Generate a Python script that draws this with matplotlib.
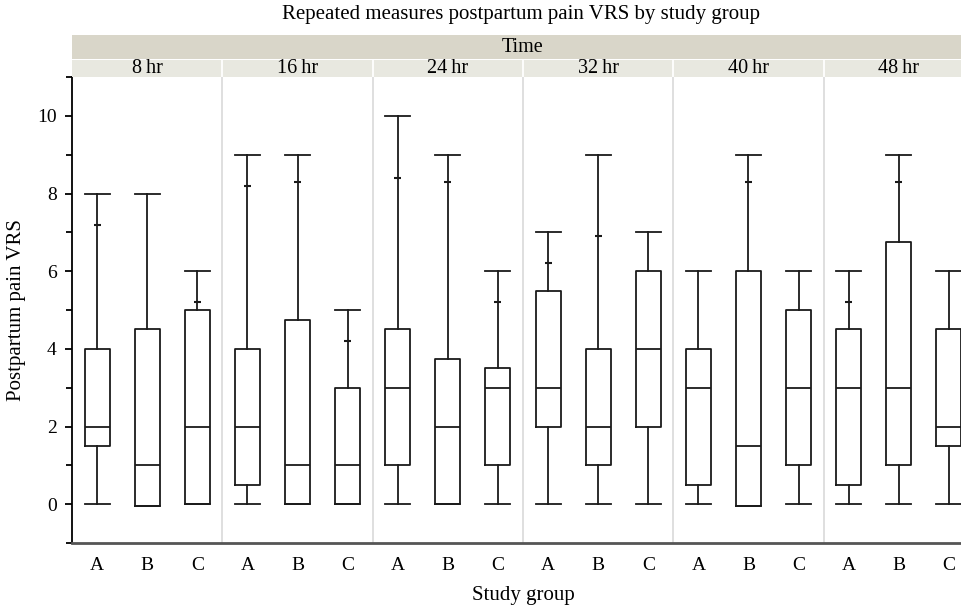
import numpy as np
import matplotlib.pyplot as plt
from matplotlib.ticker import MultipleLocator

plt.rcParams['font.family'] = ['Liberation Serif', 'DejaVu Serif']

times = ['8\u2009hr', '16\u2009hr', '24\u2009hr', '32\u2009hr', '40\u2009hr', '48\u2009hr']
groups = ['A', 'B', 'C']

# per box, order: 8hr A,B,C, 16hr A,B,C, ...
mins = [0, -0.04, 0,  0, 0, 0,  0, 0, 0,  0, 0, 0,  0, -0.04, 0,  0, 0, 0]
q1s = [1.5, -0.04, 0,  0.5, 0, 0,  1, 0, 1,  2, 1, 2,  0.5, -0.04, 1,  0.5, 1, 1.5]
medians = [2, 1, 2,  2, 1, 1,  3, 2, 3,  3, 2, 4,  3, 1.5, 3,  3, 3, 2]
q3s = [4, 4.5, 5,  4, 4.75, 3,  4.5, 3.75, 3.5,  5.5, 4, 6,  4, 6, 5,  4.5, 6.75, 4.5]
maxs = [8, 8, 6,  9, 9, 5,  10, 9, 6,  7, 9, 7,  6, 9, 6,  6, 9, 6]
# 90th percentile marks on the whiskers (None = not shown)
p90 = [7.2, None, 5.2,  8.2, 8.3, 4.2,  8.4, 8.3, 5.2,  6.2, 6.9, None,  None, 8.3, None,  5.2, 8.3, None]

W, H = 961, 609
fig = plt.figure(figsize=(W / 100, H / 100), dpi=100)

left, right = 72, 974
bottom, top = 543, 77
ax = fig.add_axes([left / W, 1 - bottom / H, (right - left) / W, (bottom - top) / H])

stats = []
for i in range(len(medians)):
    stats.append(dict(med=medians[i], q1=q1s[i], q3=q3s[i],
                      whislo=mins[i], whishi=maxs[i], fliers=[]))

pos = np.arange(len(medians))
lc = '#1a1a1a'
ax.bxp(stats, positions=pos, widths=0.5, capwidths=0.5, showfliers=False,
       boxprops=dict(color=lc, lw=1.3), whiskerprops=dict(color=lc, lw=1.3),
       capprops=dict(color=lc, lw=1.3), medianprops=dict(color=lc, lw=1.3))

for i, v in enumerate(p90):
    if v is not None:
        ax.hlines(v, pos[i] - 0.07, pos[i] + 0.07, color=lc, lw=1.5)

# panel separators
for k in range(1, len(times)):
    ax.axvline(3 * k - 0.5, color='#dcdcdc', lw=1.3, zorder=0)

ax.set_xlim(-0.5, len(medians) - 0.5)
ax.set_ylim(-1, 11)
ax.set_xticks(pos)
ax.set_xticklabels(groups * len(times), fontsize=14)
ax.tick_params(axis='x', length=0, pad=10)
ax.set_yticks(np.arange(0, 11, 2))
ax.set_yticks([-1, 1, 3, 5, 7, 9, 11], minor=True)
ax.tick_params(axis='y', which='major', length=5, width=1.3, labelsize=14, pad=6)
ax.tick_params(axis='y', which='minor', length=4, width=1.3)
ax.spines['top'].set_visible(False)
ax.spines['right'].set_visible(False)
ax.spines['left'].set_linewidth(1.3)
ax.spines['bottom'].set_linewidth(2)
ax.spines['bottom'].set_color('#555555')

ax.set_xlabel('Study group', fontsize=15, labelpad=9)
ax.set_ylabel('Postpartum pain VRS', fontsize=15, labelpad=8)

# header bands
hx = fig.add_axes([left / W, 1 - 77 / H, (right - left) / W, (77 - 35) / H])
hx.set_xlim(-0.5, len(medians) - 0.5)
hx.set_ylim(0, 42)
hx.axis('off')
hx.axhspan(18, 42, color='#d9d6c9', lw=0)
hx.axhspan(0, 17.5, color='#e8e8e0', lw=0)
for k in range(1, len(times)):
    hx.vlines(3 * k - 0.5, 0, 17.5, color='white', lw=1.3)
hx.text((len(medians) - 1) / 2, 29.5, 'Time', ha='center', va='center', fontsize=14.5)
for k, t in enumerate(times):
    hx.text(3 * k + 1, 8.5, t, ha='center', va='center', fontsize=14.5)

fig.text(521 / W, 1 - 15 / H, 'Repeated measures postpartum pain VRS by study group',
         ha='center', va='center', fontsize=15)

fig.savefig('out.png', dpi=100)
